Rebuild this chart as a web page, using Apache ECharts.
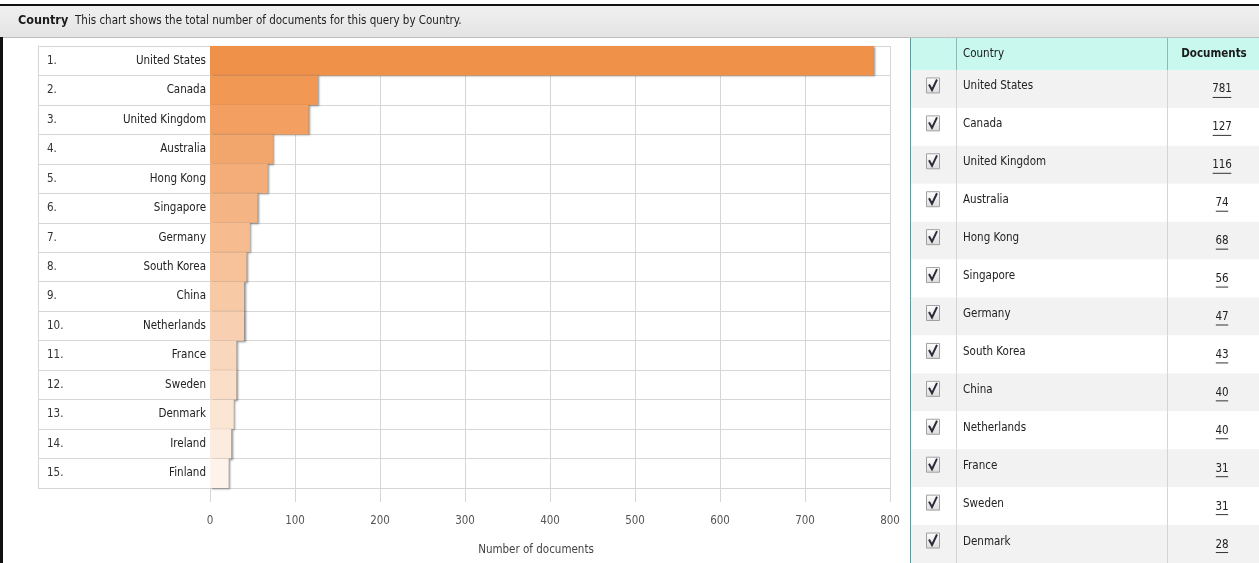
<!DOCTYPE html>
<html><head><meta charset="utf-8">
<script src="https://cdn.jsdelivr.net/npm/echarts@6/dist/echarts.min.js"></script>
<style>html,body{margin:0;padding:0;background:#fff}#c{width:1259px;height:563px}</style>
</head><body><div id="c"></div>
<script>
const countries = ['United States','Canada','United Kingdom','Australia','Hong Kong','Singapore','Germany','South Korea','China','Netherlands','France','Sweden','Denmark','Ireland','Finland'];
const documents = [781,127,116,74,68,56,47,43,40,40,31,31,28,25,22];
const rankLabels = ['1.','2.','3.','4.','5.','6.','7.','8.','9.','10.','11.','12.','13.','14.','15.'];
const xTickValues = [0,100,200,300,400,500,600,700,800];
const tableCountries = countries.slice(0, 13);
const headerTitle = 'Country';
const headerNote = 'This chart shows the total number of documents for this query by Country.';
const axisTitle = 'Number of documents';
const tableHeaders = ['Country', 'Documents'];

const F = "'DejaVu Sans Condensed','Liberation Sans Narrow',sans-serif";
const FS = 11.5;
const startC = [240,145,74], endC = [253,243,234];
function mix(t){const c=startC.map((s,k)=>Math.round(s+(endC[k]-s)*t));return 'rgb('+c.join(',')+')';}

const chart = echarts.init(document.getElementById('c'), null, {renderer:'canvas'});
const option = {
  animation:false,
  backgroundColor:'#fff',
  textStyle:{fontFamily:F},
  grid:[
    {left:210, top:46, width:680, height:442, containLabel:false},
    {left:911, top:70, right:0, height:13*38.9, containLabel:false}
  ],
  xAxis:[
    {type:'value', gridIndex:0, min:xTickValues[0], max:xTickValues[xTickValues.length-1], interval:100,
     axisLine:{show:true, lineStyle:{color:'#d6d6d6'}},
     axisTick:{show:true, length:14, lineStyle:{color:'#d6d6d6'}},
     splitLine:{show:true, lineStyle:{color:'#d6d6d6'}},
     axisLabel:{margin:27, color:'#555', fontSize:FS, fontFamily:F},
     name:axisTitle, nameLocation:'middle', nameGap:56,
     nameTextStyle:{color:'#444', fontSize:FS, fontFamily:F, padding:[0,28,0,0]}},
    {type:'value', gridIndex:1, min:0, max:1, show:false}
  ],
  yAxis:[
    {type:'category', gridIndex:0, data:countries, inverse:true,
     axisLine:{show:false},
     axisTick:{show:true, length:172, interval:0, lineStyle:{color:'#d6d6d6'}},
     splitLine:{show:true, interval:0, lineStyle:{color:'#d6d6d6'}},
     axisLabel:{interval:0, margin:4, color:'#222', fontFamily:F, fontSize:FS,
       formatter:function(v, i){return '{r|'+rankLabels[i]+'}{n|'+v+'}';},
       rich:{r:{width:41, padding:[0,0,0,9], align:'left', color:'#333', fontFamily:F, fontSize:FS},
             n:{width:118, align:'right', color:'#222', fontFamily:F, fontSize:FS}}}},
    {type:'category', gridIndex:0, data:countries, inverse:true, position:'left', offset:172,
     axisLine:{show:true, lineStyle:{color:'#d6d6d6'}}, axisTick:{show:false}, axisLabel:{show:false}, splitLine:{show:false}},
    {type:'category', gridIndex:1, data:tableCountries, inverse:true,
     axisLine:{show:false}, axisTick:{show:false}, axisLabel:{show:false},
     splitLine:{show:false},
     splitArea:{show:true, interval:0, areaStyle:{color:['#f2f2f2','#ffffff']}}}
  ],
  graphic:{elements:[
    {type:'rect', left:0, top:5, shape:{width:1259, height:32}, style:{fill:new echarts.graphic.LinearGradient(0,0,0,1,[{offset:0,color:'#f0f0f0'},{offset:1,color:'#e4e4e4'}])}, z:-1},
    {type:'line', shape:{x1:0,y1:5,x2:1259,y2:5}, style:{stroke:'#111', lineWidth:2}},
    {type:'line', shape:{x1:0,y1:37.5,x2:1259,y2:37.5}, style:{stroke:'#bdbdbd', lineWidth:1}},
    {type:'line', shape:{x1:1.5,y1:37,x2:1.5,y2:563}, style:{stroke:'#111', lineWidth:3}},
    {type:'text', style:{text:headerTitle, x:18, y:21, verticalAlign:'middle', font:'bold 12.5px '+F, fill:'#1a1a1a'}},
    {type:'text', style:{text:headerNote, x:75, y:21, verticalAlign:'middle', font:FS+'px '+F, fill:'#222'}},
    {type:'rect', shape:{x:911, y:38, width:348, height:32}, style:{fill:'#c9f8ee'}},
    {type:'line', shape:{x1:911,y1:70.5,x2:1259,y2:70.5}, style:{stroke:'#8fb8b4', lineWidth:1}},
    {type:'line', shape:{x1:956.5,y1:38,x2:956.5,y2:70}, style:{stroke:'#8fb8b4', lineWidth:1}},
    {type:'line', shape:{x1:1167.5,y1:38,x2:1167.5,y2:70}, style:{stroke:'#8fb8b4', lineWidth:1}},
    {type:'line', shape:{x1:910.5,y1:38,x2:910.5,y2:563}, style:{stroke:'#5f9a98', lineWidth:1}, z:100},
    {type:'text', style:{text:tableHeaders[0], x:963, y:54, verticalAlign:'middle', font:FS+'px '+F, fill:'#1a1a1a'}},
    {type:'text', style:{text:tableHeaders[1], x:1214, y:54, align:'center', verticalAlign:'middle', font:'bold '+FS+'px '+F, fill:'#1a1a1a'}}
  ]},
  series:[
    {type:'bar', xAxisIndex:0, yAxisIndex:0, data:documents, barCategoryGap:'0%',
     itemStyle:{color:function(p){return mix(p.dataIndex/(documents.length-1));},
       shadowColor:'rgba(0,0,0,0.45)', shadowBlur:2, shadowOffsetX:1.5, shadowOffsetY:1}},
    {type:'custom', xAxisIndex:1, yAxisIndex:2, clip:false,
     data:tableCountries.map(function(c){return [0, c];}),
     renderItem:function(params, api){
       const i = params.dataIndex;
       const cs = params.coordSys;
       const yc = api.coord([0, i])[1];
       const h = api.size([0, 1])[1];
       const top = yc - h/2, bot = yc + h/2;
       const x0 = cs.x;
       const c1 = x0 + 45.5, c2 = x0 + 256.5;
       const numX = x0 + 311;
       const num = String(documents[i]);
       const uw = num.length * 6.2;
       const bx = x0 + 15, by = yc - 11.5;
       return {type:'group', children:[
         {type:'line', shape:{x1:c1,y1:top,x2:c1,y2:bot}, style:{stroke:'#d4d4d4', lineWidth:1}},
         {type:'line', shape:{x1:c2,y1:top,x2:c2,y2:bot}, style:{stroke:'#d4d4d4', lineWidth:1}},
         {type:'rect', shape:{x:bx+0.5, y:by+0.5, width:13, height:15},
          style:{fill:new echarts.graphic.LinearGradient(0,0,0,1,[{offset:0,color:'#ffffff'},{offset:1,color:'#dcdcdc'}]), stroke:'#a0a0a0', lineWidth:1}},
         {type:'polyline', shape:{points:[[bx+3,by+7],[bx+6,by+12.5],[bx+11,by+2]]}, style:{stroke:'#2b2b3a', lineWidth:2, fill:null}},
         {type:'text', style:{text:tableCountries[i], x:c1+6.5, y:yc-2.5, align:'left', verticalAlign:'middle', font:FS+'px '+F, fill:'#222'}},
         {type:'text', style:{text:num, x:numX, y:yc+0.5, align:'center', verticalAlign:'middle', font:FS+'px '+F, fill:'#222'}},
         {type:'line', shape:{x1:numX-uw/2, y1:yc+8.5, x2:numX+uw/2, y2:yc+8.5}, style:{stroke:'#333', lineWidth:1}}
       ]};
     }}
  ]
};
chart.setOption(option);
</script>
</body></html>
